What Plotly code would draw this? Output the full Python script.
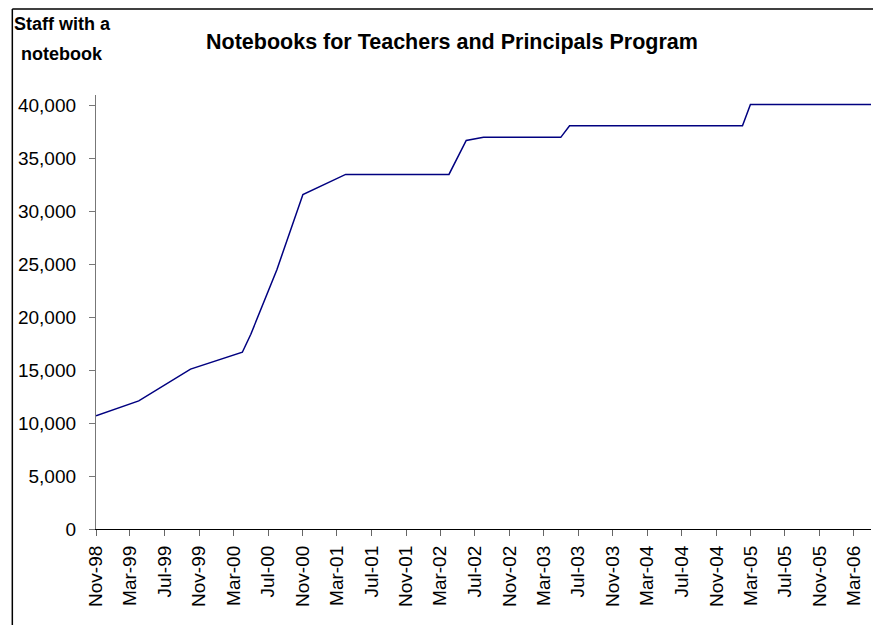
import plotly.graph_objects as go

dates = ["1998-11-01", "1999-04-01", "1999-10-01", "2000-04-01", "2000-05-01",
         "2000-08-01", "2000-11-01", "2001-04-01", "2002-04-01", "2002-06-01",
         "2002-08-01", "2003-05-01", "2003-06-01", "2005-02-01", "2005-03-01",
         "2005-07-01", "2006-05-01"]
staff = [10700, 12100, 15100, 16700, 18400,
         24500, 31600, 33500, 33500, 36700,
         37000, 37000, 38100, 38100, 40100,
         40100, 40100]

title_text = "Notebooks for Teachers and Principals Program"
y_title_1 = "Staff with a"
y_title_2 = "notebook"

# page body has an 8px margin, so figure coords = window coords - 8
OFFX, OFFY = 8, 8
W, H = 873, 617
L, R, T, B = 85, 10, 87, 96
pw = W - L - R
ph = H - T - B

def px_x(p):
    return (p - OFFX - L) / pw

def px_y(p):
    return 1 - (p - OFFY - T) / ph

font = "Liberation Sans, Arial, sans-serif"

fig = go.Figure()
fig.add_trace(go.Scatter(x=dates, y=staff, mode="lines",
                         line=dict(color="#000080", width=1.5),
                         showlegend=False))

fig.update_layout(
    width=W, height=H,
    margin=dict(l=L, r=R, t=T, b=B),
    paper_bgcolor="white", plot_bgcolor="white",
    font=dict(family=font, color="black"),
    xaxis=dict(type="date", range=["1998-11-01", "2006-05-01"],
               tick0="1998-11-01", dtick="M4", tickformat="%b-%y",
               tickangle=-90, showgrid=False, zeroline=False,
               showline=True, linecolor="black", linewidth=1.3,
               ticks="outside", ticklen=6, tickcolor="#666",
               tickfont=dict(size=19, family=font), ticklabelstandoff=2),
    yaxis=dict(range=[0, 41000], tickvals=[0, 5000, 10000, 15000, 20000, 25000, 30000, 35000, 40000],
               tickformat=",", showgrid=False, zeroline=False,
               showline=True, linecolor="#777", linewidth=1.3,
               ticks="outside", ticklen=6, tickcolor="#777",
               tickfont=dict(size=19, family=font), ticklabelstandoff=9),
    annotations=[
        dict(text="<b>" + title_text + "</b>", x=px_x(450), y=px_y(42),
             xref="paper", yref="paper", xanchor="center", yanchor="middle",
             showarrow=False, font=dict(size=21.5, family=font)),
        dict(text="<b>" + y_title_1 + "</b>", x=px_x(9), y=px_y(24),
             xref="paper", yref="paper", xanchor="left", yanchor="middle",
             showarrow=False, font=dict(size=18, family=font)),
        dict(text="<b>" + y_title_2 + "</b>", x=px_x(16), y=px_y(54),
             xref="paper", yref="paper", xanchor="left", yanchor="middle",
             showarrow=False, font=dict(size=18, family=font)),
    ],
    shapes=[
        dict(type="line", xref="paper", yref="paper",
             x0=px_x(9), x1=px_x(9), y0=px_y(9), y1=px_y(640),
             line=dict(color="black", width=1.5)),
        dict(type="line", xref="paper", yref="paper",
             x0=px_x(9), x1=px_x(890), y0=px_y(9), y1=px_y(9),
             line=dict(color="black", width=1.5)),
    ],
)

fig.write_html("out.html")
